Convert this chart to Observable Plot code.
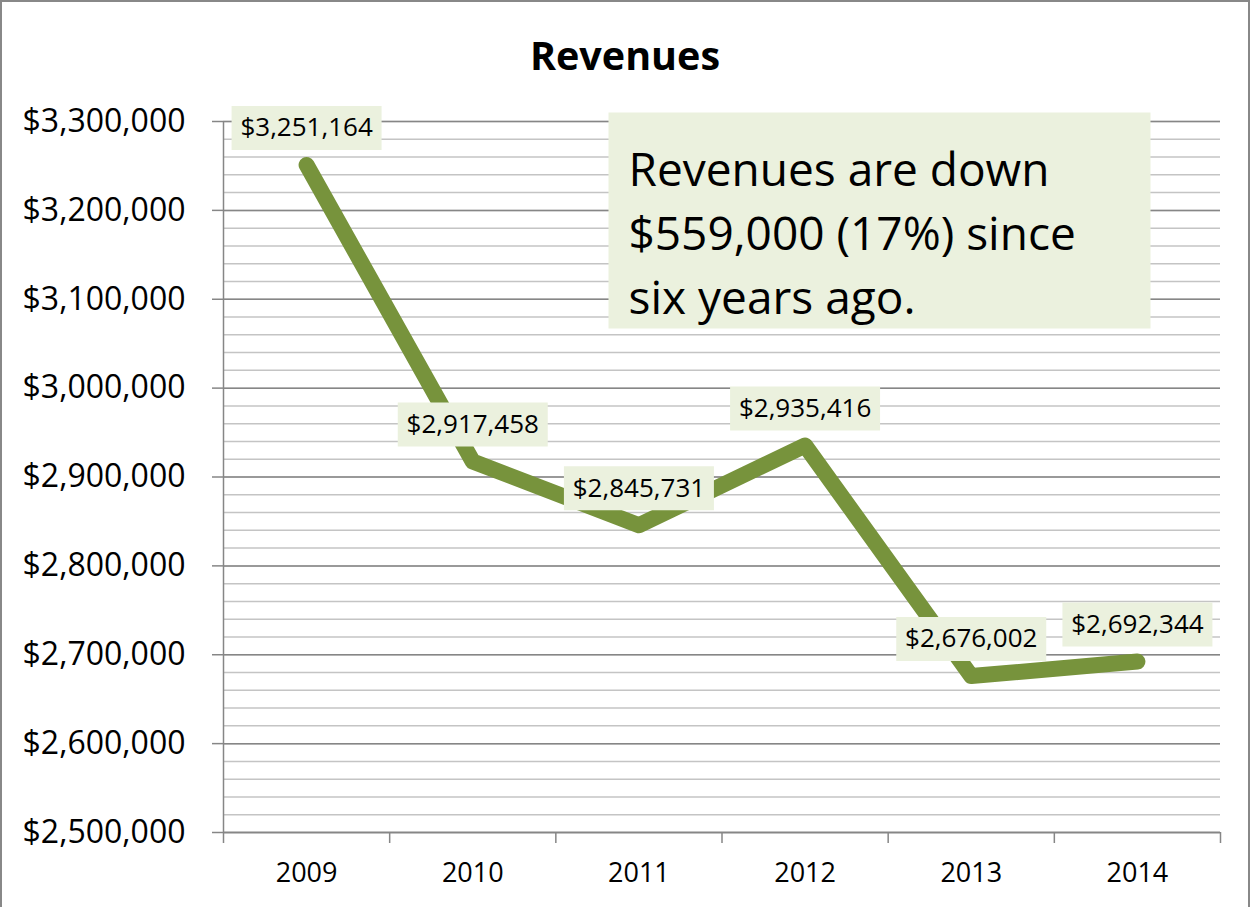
<!DOCTYPE html>
<html>
<head>
<meta charset="utf-8">
<script src="https://cdn.jsdelivr.net/npm/d3@7"></script>
<script src="https://cdn.jsdelivr.net/npm/@observablehq/plot@0.6"></script>
<style>
  html, body { margin: 0; padding: 0; background: #fff; }
  #wrap {
    position: relative; width: 1250px; height: 930px; box-sizing: border-box;
    border: 2px solid #888888; background: #fff; overflow: hidden;
    font-family: "Open Sans", "Noto Sans", sans-serif;
  }
  #title {
    height: 88px; box-sizing: border-box; padding-top: 30px;
    text-align: center; font-weight: bold; font-size: 39.5px; line-height: 46px; color: #000;
  }
  #chart svg { display: block; }
</style>
</head>
<body>
<div id="wrap">
  <div id="title">Revenues</div>
  <div id="chart"></div>
</div>
<script>
// ---- data ----
const years = [2009, 2010, 2011, 2012, 2013, 2014];
const revenues = [3251164, 2917458, 2845731, 2935416, 2676002, 2692344];
const yDomain = [2500000, 3300000];
const yMajorStep = 100000;
const yMinorStep = 20000;
const annotationText = "Revenues are down\n$559,000 (17%) since\nsix years ago.";

const data = years.map((year, i) => ({year, revenue: revenues[i]}));
const xBounds = years.map(y => y - 0.5).concat([years[years.length - 1] + 0.5]);
const xDomain = [xBounds[0], xBounds[xBounds.length - 1]];

const fmt = d3.format("$,");
const lineColor = "#77933C";
const boxFill = "#EBF1DE";
const axisGray = "#868686";
const minorGray = "#c4c4c4";

// rectangle symbol for label backgrounds
const labelBox = { draw(ctx) { ctx.rect(-75, -22, 150, 44); } };

const chart = Plot.plot({
  width: 1246,
  height: 817,
  marginLeft: 221,
  marginRight: 28,
  marginTop: 31,
  marginBottom: 75,
  style: { fontFamily: "'Open Sans', 'Noto Sans', sans-serif", background: "#fff", color: "#000" },
  x: { type: "linear", domain: xDomain },
  y: { domain: yDomain },
  marks: [
    Plot.gridY({ interval: yMinorStep, stroke: minorGray, strokeOpacity: 1, strokeWidth: 1.5 }),
    Plot.gridY({ interval: yMajorStep, stroke: axisGray, strokeOpacity: 1, strokeWidth: 1.5 }),
    Plot.frame({ fill: boxFill, stroke: "none", insetLeft: 385, insetRight: 70, insetTop: -9, insetBottom: 504 }),
    Plot.ruleX([xDomain[0]], { stroke: axisGray, strokeWidth: 1.5 }),
    Plot.ruleY([yDomain[0]], { stroke: axisGray, strokeWidth: 1.5 }),
    Plot.axisY({ interval: yMajorStep, tickFormat: fmt, tickSize: 11, tickPadding: 27, fontSize: 32,
                 stroke: axisGray, strokeWidth: 1.5, fill: "#000", label: null }),
    Plot.axisX({ ticks: xBounds, tickSize: 11, tickFormat: () => "", stroke: axisGray, strokeWidth: 1.5, label: null }),
    Plot.axisX({ ticks: years, tickSize: 0, tickPadding: 30, tickFormat: d => String(d), fontSize: 27,
                 fill: "#000", label: null }),
    Plot.line(data, { x: "year", y: "revenue", stroke: lineColor, strokeWidth: 16,
                      strokeLinecap: "round", strokeLinejoin: "round" }),
    Plot.dot(data, { x: "year", y: "revenue", dy: -37, symbol: labelBox, r: 10, fill: boxFill, stroke: "none" }),
    Plot.text(data, { x: "year", y: "revenue", dy: -37, text: d => fmt(d.revenue), fontSize: 26, fill: "#000" }),
    Plot.text([annotationText], { frameAnchor: "top-left", textAnchor: "start", lineAnchor: "top",
                                  dx: 405, dy: 19, fontSize: 46, lineHeight: 1.39, fill: "#000" })
  ]
});
document.getElementById("chart").appendChild(chart);
</script>
</body>
</html>
